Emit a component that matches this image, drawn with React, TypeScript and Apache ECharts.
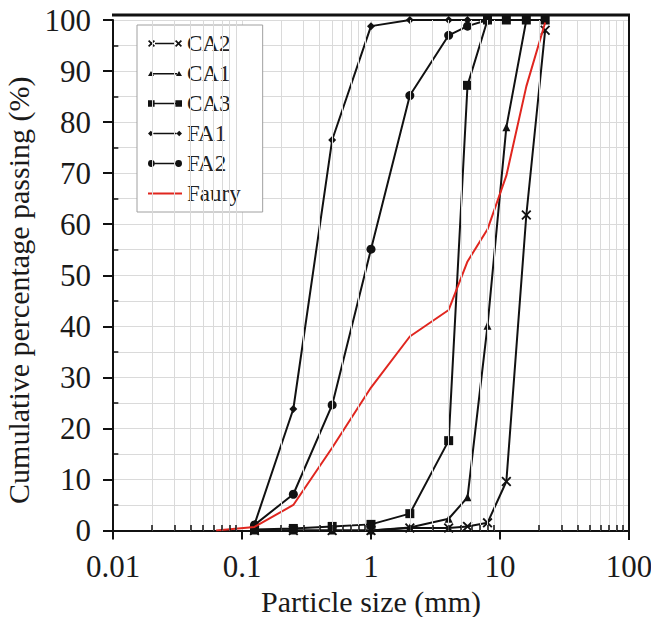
import React, { useEffect, useRef } from "react";
import * as echarts from "echarts";

// ---- data ----
const sieveSizes = [0.125, 0.25, 0.5, 1, 2, 4, 5.6, 8, 11.2, 16, 22.4];
const ca2Passing = [0, 0, 0, 0, 0.5, 0.5, 0.8, 1.5, 9.6, 61.8, 98];
const ca1Passing = [0, 0, 0, 0, 0.6, 2.3, 6.5, 40.1, 79, 100, 100];
const ca3Passing = [0.2, 0.4, 0.8, 1.2, 3.3, 17.6, 87.2, 100, 100, 100, 100];
const fa1Passing = [1.2, 23.8, 76.5, 98.8, 100, 100, 100, 100];
const fa2Passing = [1.1, 7.1, 24.6, 55.1, 85.2, 97, 98.8, 100];
const faurySizes = [0.063, 0.125, 0.25, 0.5, 1, 2, 4, 5.6, 8, 11.2, 16, 22.4];
const fauryPassing = [0, 0.7, 5, 16.2, 28, 38, 43.2, 52.7, 59, 69.5, 87, 99.5];
const xDecades = [0.01, 0.1, 1, 10, 100];
const yMinorTicks = [5, 15, 25, 35, 45, 55, 65, 75, 85, 95];

const pairs = (xs: number[], ys: number[]) => ys.map((y, i) => [xs[i], y]);

// ---- symbol / icon path helpers ----
const cross = (ox: number, oy: number, s: number, d: number) => {
  const h = s / 2;
  const p = [
    [0, d], [d, 0], [h, h - d], [s - d, 0], [s, d], [h + d, h],
    [s, s - d], [s - d, s], [h, h + d], [d, s], [0, s - d], [h - d, h],
  ];
  return "M" + p.map(([x, y]) => `${(ox + x).toFixed(2)} ${(oy + y).toFixed(2)}`).join(" L") + " Z";
};
const sq = (ox: number, oy: number, s: number) => `M${ox} ${oy} L${ox + s} ${oy} L${ox + s} ${oy + s} L${ox} ${oy + s} Z`;
const circ = (cx: number, cy: number, r: number) =>
  `M${cx - r} ${cy} A${r} ${r} 0 1 1 ${cx + r} ${cy} A${r} ${r} 0 1 1 ${cx - r} ${cy} Z`;
const diamond = (cx: number, cy: number, w: number, h: number) =>
  `M${cx} ${cy - h / 2} L${cx + w / 2} ${cy} L${cx} ${cy + h / 2} L${cx - w / 2} ${cy} Z`;
const tri = (cx: number, cy: number, w: number, h: number) =>
  `M${cx} ${cy - h / 2} L${cx + w / 2} ${cy + h / 2} L${cx - w / 2} ${cy + h / 2} Z`;
const bar = (x1: number, x2: number, cy: number, t: number) =>
  `M${x1} ${cy - t / 2} L${x2} ${cy - t / 2} L${x2} ${cy + t / 2} L${x1} ${cy + t / 2} Z`;

const W = 34;
const CY = 4;
const iconCA2 = "path://" + cross(0, 0.5, 7, 1.2) + " " + bar(7, 27, CY, 1.4) + " " + cross(27, 0.5, 7, 1.2);
const iconCA1 = "path://" + tri(3, CY - 0.3, 6, 5) + " " + bar(5, 29, CY, 1.4) + " " + tri(31, CY - 0.3, 6, 5);
const iconCA3 = "path://" + sq(0, 0.7, 6.6) + " " + bar(6.6, 27.4, CY, 1.4) + " " + sq(27.4, 0.7, 6.6);
const iconFA1 = "path://" + diamond(2.8, CY, 5.6, 5.6) + " " + bar(5.6, 28.4, CY, 1.4) + " " + diamond(31.2, CY, 5.6, 5.6);
const iconFA2 = "path://" + circ(3.4, CY, 3.4) + " " + bar(6.8, 27.2, CY, 1.4) + " " + circ(30.6, CY, 3.4);
const iconFaury = "path://" + bar(0, W, CY, 2);
const xSymbol = "path://" + cross(0, 0, 10, 1.3);

export default function App() {
  const ref = useRef<HTMLDivElement>(null);

  useEffect(() => {
    if (!ref.current) return;
    const chart = echarts.init(ref.current, null, { renderer: "svg" });

    const serif = "'Liberation Serif', 'Times New Roman', serif";
    const black = "#111";
    const grid = "#dadada";

    // minor (2..9) positions per decade for the log axis
    const xMinor: number[] = [];
    for (let d = 0; d < xDecades.length - 1; d++) {
      for (let m = 2; m <= 9; m++) xMinor.push(+(xDecades[d] * m).toPrecision(3));
    }

    const markLines: any[] = [];
    // minor vertical grid lines
    xMinor.forEach((x) => {
      markLines.push([
        { coord: [x, 0], lineStyle: { color: grid, width: 1, type: "solid" } },
        { coord: [x, 100] },
      ]);
    });
    // minor x ticks (inside)
    xMinor.forEach((x) => {
      markLines.push([
        { coord: [x, 0], lineStyle: { color: black, width: 1.5, type: "solid" } },
        { coord: [x, 1.1] },
      ]);
    });
    // minor y ticks (inside)
    yMinorTicks.forEach((y) => {
      markLines.push([
        { coord: [0.01, y], lineStyle: { color: black, width: 1.5, type: "solid" } },
        { coord: [0.01 * 1.1, y] },
      ]);
    });

    const lineSeries = (name: string, data: number[][], symbol: string, symbolSize: any) => ({
      name,
      type: "line",
      data,
      symbol,
      symbolSize,
      showSymbol: true,
      lineStyle: { color: black, width: 2 },
      itemStyle: { color: black, borderWidth: 0 },
      emphasis: { disabled: true },
      z: 3,
    });

    chart.setOption({
      animation: false,
      backgroundColor: "#fff",
      textStyle: { fontFamily: serif },
      grid: { left: 113, right: 22, top: 20, bottom: 86.5, outerBoundsMode: "none", containLabel: false },
      legend: {
        orient: "vertical",
        left: 137,
        top: 25,
        padding: [7, 22, 7, 11],
        itemGap: 7,
        itemWidth: W,
        itemHeight: 8,
        borderColor: "#a0a0a0",
        borderWidth: 1,
        backgroundColor: "#fff",
        textStyle: { fontFamily: serif, fontSize: 23, color: "#222" },
        selectedMode: false,
        data: [
          { name: "CA2", icon: iconCA2 },
          { name: "CA1", icon: iconCA1 },
          { name: "CA3", icon: iconCA3 },
          { name: "FA1", icon: iconFA1 },
          { name: "FA2", icon: iconFA2 },
          { name: "Faury", icon: iconFaury },
        ],
      },
      xAxis: {
        type: "log",
        logBase: 10,
        min: 0.01,
        max: 100,
        name: "Particle size (mm)",
        nameLocation: "middle",
        nameGap: 48,
        nameTextStyle: { fontFamily: serif, fontSize: 30, color: "#1a1a1a" },
        axisLine: { onZero: false, lineStyle: { color: black, width: 2 } },
        axisTick: { show: true, length: 9, lineStyle: { color: black, width: 2 } },
        axisLabel: {
          fontFamily: serif,
          fontSize: 31,
          color: "#1a1a1a",
          margin: 20,
          formatter: (v: number) => String(+v.toPrecision(3)),
        },
        splitLine: { show: true, lineStyle: { color: grid, width: 1 } },
      },
      yAxis: {
        type: "value",
        min: 0,
        max: 100,
        interval: 10,
        name: "Cumulative percentage passing (%)",
        nameLocation: "middle",
        nameGap: 76,
        nameTextStyle: { fontFamily: serif, fontSize: 30, color: "#1a1a1a", padding: [0, 30, 0, 0] },
        axisLine: { show: true, onZero: false, lineStyle: { color: black, width: 2 } },
        axisTick: { show: true, length: 10, lineStyle: { color: black, width: 2 } },
        axisLabel: { fontFamily: serif, fontSize: 31, color: "#1a1a1a", margin: 22 },
        splitLine: { show: true, lineStyle: { color: grid, width: 1 } },
        minorTick: { show: false, splitNumber: 2 },
        minorSplitLine: { show: true, lineStyle: { color: grid, width: 1 } },
      },
      graphic: [
        { type: "line", z: 100, shape: { x1: 112, y1: 15, x2: 630, y2: 15 }, style: { stroke: black, lineWidth: 3 } },
        { type: "line", z: 100, shape: { x1: 629, y1: 15, x2: 629, y2: 540 }, style: { stroke: black, lineWidth: 2 } },
      ],
      series: [
        {
          name: "_grid",
          type: "line",
          data: [[1, 0]],
          symbol: "none",
          lineStyle: { opacity: 0 },
          z: 1,
          silent: true,
          markLine: {
            silent: true,
            symbol: ["none", "none"],
            label: { show: false },
            emphasis: { disabled: true },
            animation: false,
            data: markLines,
          },
        },
        lineSeries("CA2", pairs(sieveSizes, ca2Passing), xSymbol, 10),
        lineSeries("CA1", pairs(sieveSizes, ca1Passing), "triangle", 8),
        lineSeries("CA3", pairs(sieveSizes, ca3Passing), "rect", 9),
        lineSeries("FA1", pairs(sieveSizes, fa1Passing), "diamond", 8),
        lineSeries("FA2", pairs(sieveSizes, fa2Passing), "circle", 9),
        {
          name: "Faury",
          type: "line",
          data: pairs(faurySizes, fauryPassing),
          symbol: "none",
          lineStyle: { color: "#e0261f", width: 2 },
          itemStyle: { color: "#e0261f" },
          emphasis: { disabled: true },
          z: 4,
        },
      ],
    });

    return () => chart.dispose();
  }, []);

  return (
    <div
      ref={ref}
      style={{ position: "fixed", left: 0, top: 0, width: 651, height: 617, background: "#fff" }}
    />
  );
}
